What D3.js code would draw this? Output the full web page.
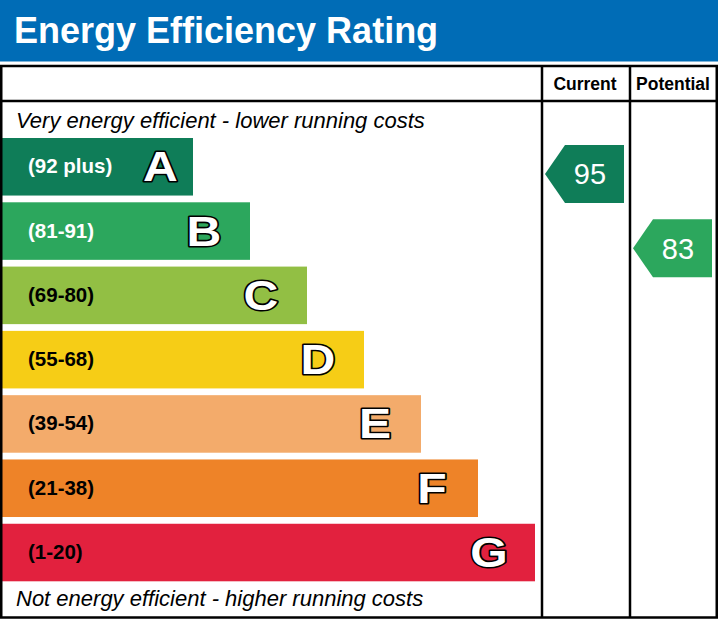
<!DOCTYPE html>
<html>
<head>
<meta charset="utf-8">
<script src="https://cdn.jsdelivr.net/npm/d3@7"></script>
<style>
  html, body { margin: 0; padding: 0; background: #ffffff; }
  svg { display: block; }
  text { font-family: "Liberation Sans", Arial, sans-serif; }
</style>
</head>
<body>
<div id="chart"></div>
<script>
// ---- data ----
const title = "Energy Efficiency Rating";
const bands = ["A", "B", "C", "D", "E", "F", "G"];
const rangeLabels = ["(92 plus)", "(81-91)", "(69-80)", "(55-68)", "(39-54)", "(21-38)", "(1-20)"];
const bandMin = [92, 81, 69, 55, 39, 21, 1];
const bandMax = [100, 91, 80, 68, 54, 38, 20];
const bandColors = ["#0f7d58", "#2ca75d", "#92bf44", "#f6cd16", "#f3ab6b", "#ee8328", "#e2213e"];
const labelColors = ["#ffffff", "#ffffff", "#000000", "#000000", "#000000", "#000000", "#000000"];
const columns = ["Current", "Potential"];
const ratings = [95, 83];
const topNote = "Very energy efficient - lower running costs";
const bottomNote = "Not energy efficient - higher running costs";

// ---- layout ----
const W = 718, H = 619;
const svg = d3.select("#chart").append("svg").attr("width", W).attr("height", H);

// header
svg.append("rect").attr("x", 0).attr("y", 0).attr("width", W).attr("height", 61.5).attr("fill", "#006cb6");
svg.append("text").attr("x", 14).attr("y", 43).attr("fill", "#fff")
  .attr("font-size", 36).attr("font-weight", "bold").text(title);

const y = d3.scaleBand().domain(bands).range([138, 581.3]).paddingInner(0.105).paddingOuter(0);
const xBar = d3.scaleLinear().domain([0, 7]).range([136, 535]);
const xCol = d3.scaleBand().domain(columns).range([542, 718]);

const bw = y.bandwidth();

// bars
const g = svg.append("g");
bands.forEach((b, i) => {
  const top = y(b);
  g.append("rect").attr("x", 1.5).attr("y", top).attr("width", xBar(i + 1) - 1.5).attr("height", bw)
    .attr("fill", bandColors[i]);
  const lbl = g.append("text").attr("x", 28).attr("y", top + bw / 2 + 6.5)
    .attr("fill", labelColors[i]).attr("font-size", 20.5).attr("font-weight", "bold").text(rangeLabels[i]);
  const lblEnd = 28 + lbl.node().getComputedTextLength();
  const cx = Math.max(xBar(i + 1) - 46, lblEnd + 48);
  g.append("text")
    .attr("transform", `translate(${cx},${top + bw / 2 + 14.5}) scale(1.12,1)`)
    .attr("text-anchor", "middle")
    .attr("fill", "#fff").attr("stroke", "#000").attr("stroke-width", 3.2).attr("paint-order", "stroke")
    .attr("stroke-linejoin", "round")
    .attr("font-size", 43).attr("font-weight", "bold").text(b);
});

// notes
svg.append("text").attr("x", 16).attr("y", 128).attr("font-size", 22).attr("font-style", "italic")
  .attr("fill", "#000").text(topNote);
svg.append("text").attr("x", 16).attr("y", 606).attr("font-size", 22).attr("font-style", "italic")
  .attr("fill", "#000").text(bottomNote);

// rating arrows
function bandIndexOf(v) { return bandMin.findIndex((m, i) => v >= m && (i === 0 || v <= bandMax[i])); }
function yValue(v) {
  const i = bandIndexOf(v);
  const s = d3.scaleLinear().domain([bandMax[i], bandMin[i]]).range([y(bands[i]), y(bands[i]) + bw]);
  return s(v);
}
columns.forEach((c, k) => {
  const v = ratings[k];
  const i = bandIndexOf(v);
  const cy = yValue(v);
  const x0 = xCol(c) + 3, xb = x0 + 20, x1 = xCol(c) + 82;
  const h = bw + 0.5;
  const pts = [[x0, cy], [xb, cy - h / 2], [x1, cy - h / 2], [x1, cy + h / 2], [xb, cy + h / 2]];
  svg.append("path").attr("d", d3.line()(pts) + "Z").attr("fill", bandColors[i]);
  svg.append("text").attr("x", xCol(c) + 48).attr("y", cy + 10.5).attr("text-anchor", "middle")
    .attr("fill", "#fff").attr("font-size", 29).text(v);
  svg.append("text").attr("x", xCol(c) + 43).attr("y", 89.5).attr("text-anchor", "middle")
    .attr("fill", "#000").attr("font-size", 17.5).attr("font-weight", "bold").text(c);
});

// frame
const frame = svg.append("g").attr("fill", "none").attr("stroke", "#000").attr("stroke-width", 2.5);
frame.append("rect").attr("x", 1.25).attr("y", 66).attr("width", 715.5).attr("height", 551.5);
frame.append("line").attr("x1", 0).attr("x2", W).attr("y1", 101).attr("y2", 101);
columns.forEach(c => {
  frame.append("line").attr("x1", xCol(c)).attr("x2", xCol(c)).attr("y1", 66).attr("y2", 617.5);
});
</script>
</body>
</html>
